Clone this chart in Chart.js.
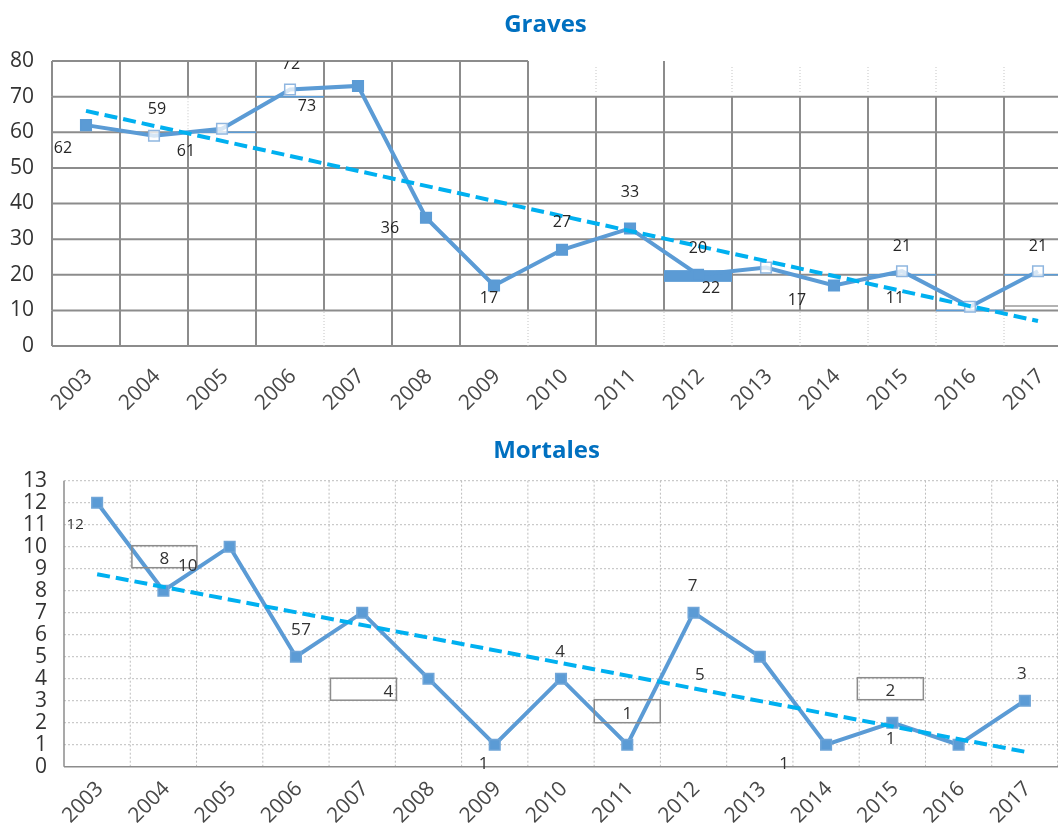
<!DOCTYPE html>
<html><head><meta charset="utf-8">
<script src="https://cdn.jsdelivr.net/npm/chart.js@4/dist/chart.umd.min.js"></script>
<style>
html,body{margin:0;padding:0;background:#fff;overflow:hidden;}
#wrap{position:relative;width:1058px;height:826px;overflow:hidden;background:#fff;}
#c1{position:absolute;left:0;top:0;}
#c2{position:absolute;left:0;top:430px;}
</style></head><body>
<div id="wrap"><canvas id="c1" width="1075" height="430"></canvas><canvas id="c2" width="1058" height="396"></canvas></div>
<script>
// ---------- data ----------
const years = ['2003','2004','2005','2006','2007','2008','2009','2010','2011','2012','2013','2014','2015','2016','2017'];
const gravesValues = [62,59,61,72,73,36,17,27,33,20,22,17,21,11,21];
const gravesTrend = [66,null,null,null,null,null,null,null,null,null,null,null,null,null,7];
const gravesTickStep = 10, gravesMax = 80;
const mortalesValues = [12,8,10,5,7,4,1,4,1,7,5,1,2,1,3];
const mortalesTrend = [8.75,null,null,null,null,null,null,null,null,null,null,null,null,null,0.68];
const mortalesTickStep = 1, mortalesMax = 13;
const gravesTitle = 'Graves', mortalesTitle = 'Mortales';

// ---------- styles / label placement ----------
const BLUE = '#5B9BD5', TREND = '#00B0F0', TITLE = '#0070C0';
const gravesHollow = [0,1,1,1,0,0,0,0,0,0,1,0,1,1,1];
const gravesLabelOffsets = [[-23,23],[3,-26],[-36,23],[1,-25],[-51,20],[-36,11],[-5,13],[0,-27],[0,-36],[0,-26],[-55,21],[-37,15],[0,-25],[-75,-8],[0,-25]];
const mortalesLabelOffsets = [[-22,22],[1,-32],[-42,19],[0,-27],[-56,17],[-40,13],[-11,19],[-1,-27],[0,-31],[-1,-27],[-60,18],[-42,19],[-2,-32],[-68,-6],[-3,-27]];
const mortalesLabelBoxes = {1:[0,-2,65,22],5:[-25,-2.5,66,22],8:[0,-2.5,66,23],12:[0,-2,66,22]};
const mortalesLabelSizes = {0:15};
// odd rendering artifacts of the source chart (category, value)
const gravesColumnMarks = [['2005',60,BLUE],['2006',70,BLUE],['2015',20,BLUE],['2016',10,BLUE],['2017',20,BLUE],['2017',11.2,'#9a9a9a']];
const gravesBlock = ['2012',18,21.3];
const gravesSolidBottomEdges = [0,1,2,3,5,6,8];

const SOLID = {color:'#8c8c8c', width:2, dash:[]};
const DOT = {color:'#c4c4c4', width:1, dash:[1,2]};
const DOT2 = {color:'#bdbdbd', width:1, dash:[2,2]};

function seg(ctx,x1,y1,x2,y2,st){ctx.save();ctx.strokeStyle=st.color;ctx.lineWidth=st.width;ctx.setLineDash(st.dash);ctx.beginPath();ctx.moveTo(x1,y1);ctx.lineTo(x2,y2);ctx.stroke();ctx.restore();}
function edgeX(chart,k){const x=chart.scales.x;const p0=x.getPixelForValue(0),p1=x.getPixelForValue(1);const st=p1-p0;return p0-st/2+k*st;}

function titlePlugin(id,text,cx,cy){return {id,afterDraw(chart){const c=chart.ctx;c.save();c.font='700 24px "Open Sans"';c.fillStyle=TITLE;c.textAlign='center';c.textBaseline='middle';c.fillText(text,cx,cy);c.restore();}};}

function labelPlugin(id,values,offsets,opts){return {id,afterDatasetsDraw(chart){
  const meta=chart.getDatasetMeta(0);const ctx=chart.ctx;const ca=chart.chartArea;
  ctx.save();
  if(opts.clip){ctx.beginPath();ctx.rect(ca.left,ca.top,ca.right-ca.left,ca.bottom-ca.top);ctx.clip();}
  ctx.textAlign='center';ctx.textBaseline='middle';
  meta.data.forEach((pt,i)=>{
    const x=pt.x+offsets[i][0], y=pt.y+offsets[i][1];
    const size=(opts.sizes&&opts.sizes[i])||opts.size;
    ctx.font=size+'px "Open Sans"';ctx.fillStyle=opts.color;
    ctx.fillText(String(values[i]),x,y);
    const b=opts.boxes&&opts.boxes[i];
    if(b){ctx.strokeStyle='#8c8c8c';ctx.lineWidth=1.5;ctx.strokeRect(x+b[0]-b[2]/2,y+b[1]-b[3]/2,b[2],b[3]);}
  });
  ctx.restore();
}};}

const gravesGrid = {id:'gravesGrid',beforeDatasetsDraw(chart){
  const ctx=chart.ctx,y=chart.scales.y;const L=edgeX(chart,0),R=edgeX(chart,15);
  for(let v=0;v<=gravesMax;v+=gravesTickStep){
    const py=y.getPixelForValue(v);
    seg(ctx,L,py,v<gravesMax?R:edgeX(chart,7),py,SOLID);
  }
  for(let k=0;k<15;k++){
    const px=edgeX(chart,k);
    seg(ctx,px,y.getPixelForValue(0),px,y.getPixelForValue(10),gravesSolidBottomEdges.includes(k)?SOLID:DOT);
    if(k===2){seg(ctx,px,y.getPixelForValue(10),px,y.getPixelForValue(60),SOLID);seg(ctx,px,y.getPixelForValue(60),px,y.getPixelForValue(70),DOT);}
    else seg(ctx,px,y.getPixelForValue(10),px,y.getPixelForValue(70),SOLID);
    if(k<=7||k===9) seg(ctx,px,y.getPixelForValue(70),px,y.getPixelForValue(80),SOLID);
    else seg(ctx,px,y.getPixelForValue(71.3),px,y.getPixelForValue(78.7),DOT);
  }
  const idx=c=>years.indexOf(c);
  gravesColumnMarks.forEach(([c,v,col])=>{const i=idx(c);const py=y.getPixelForValue(v);seg(ctx,edgeX(chart,i),py,edgeX(chart,i+1),py,{color:col,width:1.5,dash:[]});});
  const bi=idx(gravesBlock[0]);const y1=y.getPixelForValue(gravesBlock[2]),y2=y.getPixelForValue(gravesBlock[1]);
  ctx.save();ctx.fillStyle=BLUE;ctx.fillRect(edgeX(chart,bi),y1,edgeX(chart,bi+1)-edgeX(chart,bi),y2-y1);ctx.restore();
}};

const mortalesGrid = {id:'mortalesGrid',beforeDatasetsDraw(chart){
  const ctx=chart.ctx,y=chart.scales.y,ca=chart.chartArea;
  for(let v=mortalesTickStep;v<=mortalesMax;v+=mortalesTickStep){const py=y.getPixelForValue(v);seg(ctx,ca.left,py,ca.right,py,DOT2);}
  for(let k=1;k<=15;k++){const px=Math.min(edgeX(chart,k),ca.right-0.5);seg(ctx,px,ca.top,px,ca.bottom,DOT2);}
  seg(ctx,ca.left,ca.top,ca.left,ca.bottom,{color:'#8c8c8c',width:1.5,dash:[]});
  seg(ctx,ca.left,ca.bottom,ca.right,ca.bottom,{color:'#8c8c8c',width:1.5,dash:[]});
}};

function baseOptions(yMax,step,yWidth,xHeight,pad,tickPad,xPad){
  return {
    responsive:false,animation:false,
    layout:{padding:pad,autoPadding:false},
    plugins:{legend:{display:false},tooltip:{enabled:false},title:{display:false}},
    scales:{
      x:{type:'category',offset:true,grid:{display:false,drawTicks:false},border:{display:false},
         ticks:{autoSkip:false,minRotation:45,maxRotation:45,padding:xPad,labelOffset:3,color:'#484848',font:{family:'Open Sans',size:21}},
         afterFit(s){s.height=xHeight;s.paddingLeft=0;s.paddingRight=0;}},
      y:{min:0,max:yMax,grid:{display:false,drawTicks:false},border:{display:false},
         ticks:{autoSkip:false,stepSize:step,padding:tickPad,color:'#333',font:{family:'Open Sans',size:21}},
         afterFit(s){s.width=yWidth;s.paddingTop=0;s.paddingBottom=0;}}
    }
  };
}

function draw(){
  new Chart(document.getElementById('c1'),{
    type:'line',
    data:{labels:years,datasets:[
      {data:gravesValues,order:1,borderColor:BLUE,borderWidth:4,tension:0,pointStyle:'rect',pointRadius:7.5,pointBorderWidth:1.5,
       pointBackgroundColor:gravesHollow.map(h=>h?'rgba(255,255,255,0.75)':BLUE),
       pointBorderColor:gravesHollow.map(h=>h?'#8fb6e0':BLUE)},
      {data:gravesTrend,order:0,spanGaps:true,borderColor:TREND,borderWidth:4,borderDash:[13,6],pointRadius:0,tension:0}
    ]},
    options:baseOptions(gravesMax,gravesTickStep,52,84,{top:61,left:0,right:3,bottom:0},18,18),
    plugins:[gravesGrid,labelPlugin('gl',gravesValues,gravesLabelOffsets,{size:16,color:'#262626',clip:true}),titlePlugin('gt',gravesTitle,545.5,25)]
  });
  new Chart(document.getElementById('c2'),{
    type:'line',
    data:{labels:years,datasets:[
      {data:mortalesValues,order:1,borderColor:BLUE,borderWidth:4,tension:0,pointStyle:'rect',pointRadius:7.5,pointBorderWidth:1.5,
       pointBackgroundColor:BLUE,pointBorderColor:'#6fa5d8'},
      {data:mortalesTrend,order:0,spanGaps:true,borderColor:TREND,borderWidth:4,borderDash:[13,6],pointRadius:0,tension:0}
    ]},
    options:baseOptions(mortalesMax,mortalesTickStep,64,59.3,{top:50.7,left:0,right:0,bottom:0},17,10),
    plugins:[mortalesGrid,labelPlugin('ml',mortalesValues,mortalesLabelOffsets,{size:17,color:'#333',boxes:mortalesLabelBoxes,sizes:mortalesLabelSizes}),titlePlugin('mt',mortalesTitle,546.5,21)]
  });
}
Promise.all([document.fonts.load('16px "Open Sans"'),document.fonts.load('700 24px "Open Sans"')]).then(draw,draw);
</script>
</body></html>
